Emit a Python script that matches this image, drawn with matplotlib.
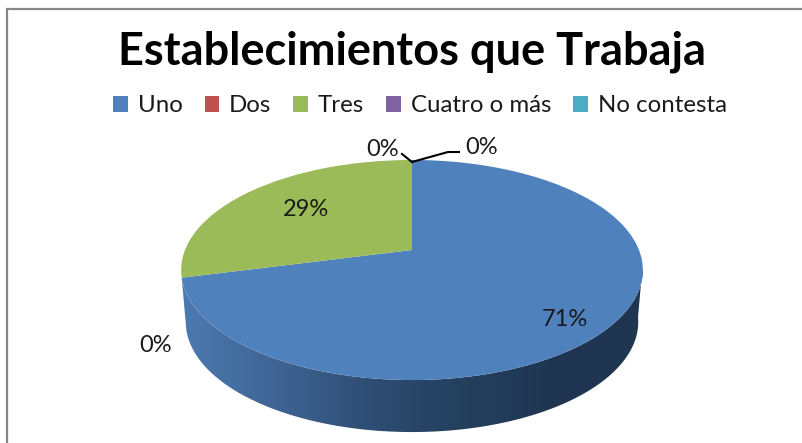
import numpy as np
import matplotlib
matplotlib.use('Agg')
import matplotlib.pyplot as plt
from matplotlib.colors import LinearSegmentedColormap
from matplotlib.patches import Patch, Polygon, Rectangle
from matplotlib.transforms import Transform

# DATA
categories = ['Uno', 'Dos', 'Tres', 'Cuatro o más', 'No contesta']
values = [71, 0, 29, 0, 0]
colors = ['#4F81BD', '#C0504D', '#9BBB59', '#8064A2', '#4BACC6']
title = 'Establecimientos que Trabaja'

plt.rcParams['font.family'] = ['Lato', 'DejaVu Sans']


# tilts the flat pie, the far edge gets shorter than the near edge
class Tilt(Transform):
    input_dims = 2
    output_dims = 2

    def __init__(self, cx, cy, sx, sy, k):
        super().__init__()
        self.cx, self.cy, self.sx, self.sy, self.k = cx, cy, sx, sy, k

    def transform_non_affine(self, xy):
        xy = np.asarray(xy, dtype=float)
        w = 1 + self.k * xy[:, 1]
        return np.column_stack([self.cx + self.sx * xy[:, 0] / w,
                                self.cy - self.sy * xy[:, 1] / w])


fig = plt.figure(figsize=(8.03, 4.43), dpi=100)
ax = fig.add_axes([0, 0, 1, 1])
tilt = Tilt(412, 250, 227, 106.4, 0.1818)

# PIE
wedges, _ = ax.pie(values, colors=colors, startangle=90, counterclock=False,
                   wedgeprops={'linewidth': 0})
for w in wedges:
    w.set_transform(tilt + ax.transData)
    w.set_zorder(3)

# SIDE WALL
depth = 52
narrow = 0.98
angles = np.linspace(np.deg2rad(194.4), np.deg2rad(352), 200)
rim = tilt.transform_non_affine(np.column_stack([np.cos(angles), np.sin(angles)]))
low = rim.copy()
low[:, 0] = 412 + (low[:, 0] - 412) * narrow
low[:, 1] += depth
side = Polygon(np.vstack([rim, low[::-1]]), closed=True, transform=ax.transData,
               facecolor='none', edgecolor='none')
ax.add_patch(side)
cmap = LinearSegmentedColormap.from_list(
    'side', ['#4C7AB2', '#3F6595', '#2F4E74', '#24405F', '#1F3653', '#1F3550'])
img = ax.imshow(np.linspace(0, 1, 256)[None, :], cmap=cmap, aspect='auto',
                extent=(180, 643, 433, 270), zorder=2)
img.set_clip_path(side)

ax.set_aspect('auto')
ax.set_xlim(0, 803)
ax.set_ylim(443, 0)
ax.axis('off')

# CHART BORDER, runs off the picture on the right and at the bottom
fig.add_artist(Rectangle((7.5 / 803, -0.1), 1.2, 0.1 + (443 - 9) / 443,
                         transform=fig.transFigure, fill=False,
                         edgecolor='#868686', linewidth=1.6))

# LABELS
ax.text(412, 52, title, fontsize=32.5, fontweight='bold', color='black',
        ha='center', va='center')

handles = [Patch(facecolor=c, edgecolor='none') for c in colors]
fig.legend(handles, categories, ncols=5, frameon=False, fontsize=17.3,
           loc='center', bbox_to_anchor=(420 / 803, 1 - 106 / 443),
           handlelength=0.62, handleheight=0.62, handletextpad=0.4,
           columnspacing=0.92, labelcolor='#1a1a1a')

label_size = 17
ax.text(383, 149, f'{values[1]}%', fontsize=label_size, ha='center', va='center', color='#1a1a1a')
ax.text(482, 147, f'{values[3]}%', fontsize=label_size, ha='center', va='center', color='#1a1a1a')
ax.text(306, 209, f'{values[2]}%', fontsize=label_size, ha='center', va='center', color='#1a1a1a')
ax.text(565, 319, f'{values[0]}%', fontsize=label_size, ha='center', va='center', color='#1a1a1a')
ax.text(156, 346, f'{values[4]}%', fontsize=label_size, ha='center', va='center', color='#1a1a1a')

# leader lines of the two zero labels at the top
ax.plot([402, 412], [154, 162], color='black', linewidth=1.5, zorder=5)
ax.plot([412, 448, 459], [162, 152, 152], color='black', linewidth=1.5, zorder=5)

fig.savefig('out.png', dpi=100)
